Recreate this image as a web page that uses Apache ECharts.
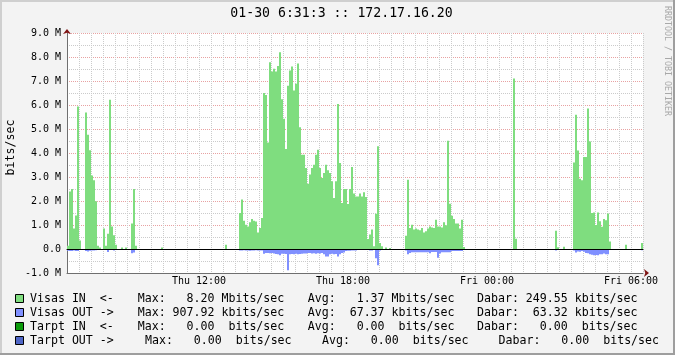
<!DOCTYPE html>
<html><head><meta charset="utf-8">
<script src="https://cdn.jsdelivr.net/npm/echarts@6/dist/echarts.min.js"></script>
<style>html,body{margin:0;padding:0;background:#f3f3f3}#c{width:675px;height:355px}</style>
</head><body><div id="c"></div>
<script>
// ---- data (Mbits/sec, one value per 5-minute slot, Thu 06:30 -> Fri 06:30) ----
const visasIn = [
  0.14, 2.40, 2.50, 0.85, 1.40, 5.94, 0.35, 0, 0, 5.69, 4.76, 4.11,
  3.06, 2.86, 1.99, 0.14, 0.06, 0, 0.85, 0.14, 0.64, 6.22, 0.94, 0.57,
  0.18, 0, 0, 0.06, 0, 0.06, 0, 0, 1.06, 2.50, 0.14, 0,
  0, 0, 0, 0, 0, 0, 0, 0, 0, 0, 0, 0.06,
  0, 0, 0, 0, 0, 0, 0, 0, 0, 0, 0, 0,
  0, 0, 0, 0, 0, 0, 0, 0, 0, 0, 0, 0,
  0, 0, 0, 0, 0, 0, 0, 0.18, 0, 0, 0, 0,
  0, 0, 1.50, 2.06, 1.18, 1.01, 0.94, 1.11, 1.25, 1.18, 1.15, 0.69,
  0.88, 1.29, 6.50, 6.42, 4.44, 7.78, 7.40, 7.51, 7.40, 7.62, 8.20, 6.24,
  5.43, 4.17, 6.80, 7.44, 7.60, 6.60, 6.89, 7.73, 5.07, 3.93, 3.93, 3.38,
  2.72, 3.10, 3.38, 3.51, 3.93, 4.14, 3.38, 2.96, 3.17, 3.51, 3.28, 3.17,
  2.82, 2.13, 2.82, 6.04, 3.58, 1.92, 2.50, 2.50, 1.88, 2.50, 3.42, 2.31,
  2.19, 2.19, 2.31, 2.19, 2.36, 2.17, 0.42, 0.60, 0.81, 0.11, 1.47, 4.28,
  0.25, 0.11, 0, 0.06, 0, 0.04, 0, 0, 0, 0, 0, 0,
  0, 0.55, 2.89, 0.88, 1.01, 0.81, 0.85, 0.81, 0.78, 0.88, 0.69, 0.74,
  0.85, 0.94, 0.90, 0.88, 1.22, 0.94, 0.94, 0.90, 1.11, 0.99, 4.51, 1.89,
  1.39, 1.25, 1.06, 1.06, 0.85, 1.22, 0.08, 0, 0, 0, 0, 0,
  0, 0, 0, 0, 0, 0, 0, 0, 0, 0, 0, 0,
  0, 0, 0, 0, 0, 0, 0, 7.10, 0.43, 0, 0, 0,
  0, 0, 0, 0, 0, 0, 0, 0, 0, 0, 0, 0,
  0, 0, 0, 0, 0.76, 0.07, 0, 0, 0.09, 0, 0, 0,
  0, 3.60, 5.59, 4.10, 2.93, 2.86, 3.83, 3.83, 5.85, 4.48, 1.50, 1.52,
  1.00, 1.52, 1.16, 0.93, 1.25, 1.20, 1.48, 0.31, 0, 0, 0, 0,
  0, 0, 0, 0.18, 0, 0, 0, 0, 0, 0, 0, 0.25
];
const visasOut = [
  -0.07, -0.08, -0.08, -0.06, -0.08, -0.08, 0, 0, 0, -0.08, -0.10, -0.07,
  -0.06, -0.06, -0.05, -0.02, 0, 0, 0, 0, -0.12, -0.03, 0, -0.06,
  0, 0, 0, 0, 0, 0, 0, 0, -0.18, -0.15, -0.03, 0,
  0, 0, 0, 0, 0, 0, 0, 0, 0, 0, 0, 0,
  0, 0, 0, 0, 0, 0, 0, 0, 0, 0, 0, 0,
  0, 0, 0, 0, 0, 0, 0, 0, 0, 0, 0, 0,
  0, 0, 0, 0, 0, 0, 0, 0, 0, 0, 0, 0,
  0, 0, -0.06, -0.06, -0.05, -0.06, -0.06, -0.07, -0.06, -0.06, -0.05, -0.06,
  -0.06, -0.06, -0.20, -0.17, -0.17, -0.18, -0.17, -0.19, -0.21, -0.22, -0.26, -0.20,
  -0.20, -0.21, -0.89, -0.22, -0.21, -0.22, -0.20, -0.22, -0.21, -0.20, -0.19, -0.19,
  -0.17, -0.17, -0.19, -0.18, -0.20, -0.18, -0.19, -0.17, -0.22, -0.31, -0.31, -0.22,
  -0.20, -0.22, -0.21, -0.31, -0.22, -0.17, -0.15, -0.08, -0.07, -0.07, -0.06, -0.06,
  -0.06, -0.03, -0.03, -0.03, -0.03, -0.03, -0.03, -0.06, -0.06, -0.03, -0.39, -0.68,
  -0.06, -0.02, 0, 0, 0, 0, 0, 0, 0, 0, 0, 0,
  0, -0.06, -0.22, -0.17, -0.14, -0.14, -0.14, -0.14, -0.14, -0.14, -0.14, -0.14,
  -0.14, -0.18, -0.13, -0.13, -0.13, -0.36, -0.19, -0.14, -0.14, -0.14, -0.14, -0.14,
  -0.08, -0.08, -0.08, -0.08, -0.08, -0.08, -0.04, 0, 0, 0, 0, 0,
  0, 0, 0, 0, 0, 0, 0, 0, 0, 0, 0, 0,
  0, 0, 0, 0, 0, 0, 0, -0.04, 0, 0, 0, 0,
  0, 0, 0, 0, 0, 0, 0, 0, 0, 0, 0, 0,
  0, 0, 0, 0, -0.06, 0, 0, 0, 0, 0, 0, 0,
  0, -0.06, -0.15, -0.10, -0.11, -0.08, -0.11, -0.17, -0.18, -0.22, -0.24, -0.26,
  -0.25, -0.26, -0.22, -0.22, -0.19, -0.22, -0.22, -0.02, 0, 0, 0, 0,
  0, 0, 0, 0, 0, 0, 0, 0, 0, 0, 0, -0.05
];
const yTickLabels = ['-1.0 M', '0.0', '1.0 M', '2.0 M', '3.0 M', '4.0 M', '5.0 M', '6.0 M', '7.0 M', '8.0 M', '9.0 M'];
const xTickLabels = ['Thu 12:00', 'Thu 18:00', 'Fri 00:00', 'Fri 06:00'];
const titleText = '01-30 6:31:3 :: 172.17.16.20';
const yAxisTitle = 'bits/sec';
const watermark = 'RRDTOOL / TOBI OETIKER';
const legendNames = ['Visas IN  <-', 'Visas OUT ->', 'Tarpt IN  <-', 'Tarpt OUT ->'];
const legendMax = ['  8.20 Mbits/sec', '907.92 kbits/sec', '  0.00  bits/sec', '  0.00  bits/sec'];
const legendAvg = ['  1.37 Mbits/sec', ' 67.37 kbits/sec', '  0.00  bits/sec', '  0.00  bits/sec'];
const legendNow = ['249.55 kbits/sec', ' 63.32 kbits/sec', '  0.00  bits/sec', '  0.00  bits/sec'];

// ---- slot categories (5-minute steps from Thu 06:30) ----
const dayNames = ['Thu', 'Fri'];
const pad = n => (n < 10 ? '0' : '') + n;
const slotLabels = [];
for (let k = 0; k <= visasIn.length; k++) {
  const m = 6 * 60 + 30 + 5 * k;
  const mm = m % 1440;
  slotLabels.push(dayNames[Math.floor(m / 1440)] + ' ' + pad(Math.floor(mm / 60)) + ':' + pad(mm % 60));
}
const barSlots = slotLabels.slice(0, visasIn.length);

// ---- styles ----
const FONT = 'DejaVu Sans Mono';
const seriesColors = ['#7fdd7f', '#8090ff', '#0b9b0b', '#4f66c6'];
const GRID_C = '#cbcbcb', MGRID_C = '#e8a2a2', AXIS_C = '#6f6f6f', ARROW_C = '#7f1414';
const legendRowY = [299, 313, 327, 341];
const legendColX = [[30, 137.7, 307.8, 477], [30, 137.7, 307.8, 477], [30, 137.7, 307.8, 477], [30, 145, 322, 498.5]];

const graphics = [
  { type: 'rect', shape: { x: 0, y: 0, width: 675, height: 2 }, style: { fill: '#cfcfcf' }, silent: true },
  { type: 'rect', shape: { x: 0, y: 0, width: 2, height: 355 }, style: { fill: '#cfcfcf' }, silent: true },
  { type: 'rect', shape: { x: 0, y: 353, width: 675, height: 2 }, style: { fill: '#9e9e9e' }, silent: true },
  { type: 'rect', shape: { x: 673, y: 0, width: 2, height: 355 }, style: { fill: '#9e9e9e' }, silent: true },
  { type: 'text', x: 341.5, y: 13.5, silent: true,
    style: { text: titleText, fontFamily: FONT, fontSize: 13.2, fill: '#000', align: 'center', verticalAlign: 'middle' } },
  { type: 'text', x: 11, y: 147.5, rotation: Math.PI / 2, silent: true,
    style: { text: yAxisTitle, fontFamily: FONT, fontSize: 11.6, fill: '#000', align: 'center', verticalAlign: 'middle' } },
  { type: 'text', x: 667, y: 61, rotation: -Math.PI / 2, silent: true,
    style: { text: watermark, fontFamily: FONT, fontSize: 8.3, fill: '#a8a8a8', align: 'center', verticalAlign: 'middle' } }
];
legendNames.forEach((name, r) => {
  const cy = legendRowY[r], cols = legendColX[r];
  graphics.push({ type: 'rect', silent: true, shape: { x: 15.5, y: cy - 4.5, width: 8, height: 8 },
    style: { fill: seriesColors[r], stroke: '#000', lineWidth: 1 } });
  const segs = [name, 'Max: ' + legendMax[r], 'Avg: ' + legendAvg[r], 'Dabar: ' + legendNow[r]];
  segs.forEach((s, j) => graphics.push({ type: 'text', x: cols[j], y: cy, silent: true,
    style: { text: s, fontFamily: FONT, fontSize: 11.6, fill: '#000', align: 'left', verticalAlign: 'middle' } }));
});

const hidden = { axisTick: { show: false }, axisLabel: { show: false } };
const option = {
  backgroundColor: '#f3f3f3',
  animation: false,
  grid: { left: 67, top: 33, width: 576, height: 240, show: true, backgroundColor: '#ffffff', borderWidth: 0,
          containLabel: false, outerBoundsMode: 'none' },
  xAxis: [
    Object.assign({ type: 'category', data: barSlots, boundaryGap: true, z: 3,
      axisLine: { show: true, onZero: true, lineStyle: { color: '#000', width: 1 } },
      splitLine: { show: false } }, hidden),
    Object.assign({ type: 'value', min: 0, max: visasIn.length, interval: 6, position: 'bottom',
      axisLine: { show: false },
      splitLine: { show: true, lineStyle: { color: GRID_C, width: 1, type: [1, 1] } } }, hidden),
    { type: 'category', data: slotLabels, boundaryGap: false, position: 'bottom',
      axisLine: { show: true, onZero: false, lineStyle: { color: AXIS_C, width: 1 } },
      axisTick: { show: false },
      axisLabel: { interval: (i, v) => xTickLabels.indexOf(v) >= 0, hideOverlap: false,
        margin: 3, fontFamily: FONT, fontSize: 10, color: '#000' },
      splitLine: { show: true, interval: (i, v) => v.slice(6) === '00' && (+v.slice(4, 6)) % 2 === 0,
        lineStyle: { color: MGRID_C, width: 1, type: [1, 1] } } },
    Object.assign({ type: 'value', min: 0, max: visasIn.length, position: 'bottom',
      axisLine: { show: true, onZero: false, symbol: ['none', 'arrow'], symbolSize: [6, 5], symbolOffset: [0, 6],
        lineStyle: { color: ARROW_C, width: 0 } },
      splitLine: { show: false } }, hidden)
  ],
  yAxis: [
    { type: 'value', min: -1, max: 9, interval: 1, position: 'left',
      axisLine: { show: true, onZero: false, lineStyle: { color: AXIS_C, width: 1 } },
      axisTick: { show: false },
      axisLabel: { formatter: v => yTickLabels[Math.round(v) + 1], margin: 6, fontFamily: FONT, fontSize: 10, color: '#000' },
      splitLine: { show: true, lineStyle: { color: MGRID_C, width: 1, type: [1, 1] } },
      minorTick: { show: false, splitNumber: 2 },
      minorSplitLine: { show: true, lineStyle: { color: GRID_C, width: 1, type: [1, 1] } } },
    Object.assign({ type: 'value', min: -1, max: 9, position: 'left',
      axisLine: { show: true, onZero: false, symbol: ['none', 'arrow'], symbolSize: [6, 5], symbolOffset: [0, 4],
        lineStyle: { color: ARROW_C, width: 0 } },
      splitLine: { show: false } }, hidden)
  ],
  series: [
    { name: 'Visas IN', type: 'bar', xAxisIndex: 0, yAxisIndex: 0, data: visasIn, barCategoryGap: '0%', barGap: '-100%',
      itemStyle: { color: seriesColors[0] }, silent: true },
    { name: 'Visas OUT', type: 'bar', xAxisIndex: 0, yAxisIndex: 0, data: visasOut, barCategoryGap: '0%', barGap: '-100%',
      itemStyle: { color: seriesColors[1] }, silent: true }
  ],
  graphic: graphics
};
const chart = echarts.init(document.getElementById('c'), null, { renderer: 'canvas' });
chart.setOption(option);
</script></body></html>
